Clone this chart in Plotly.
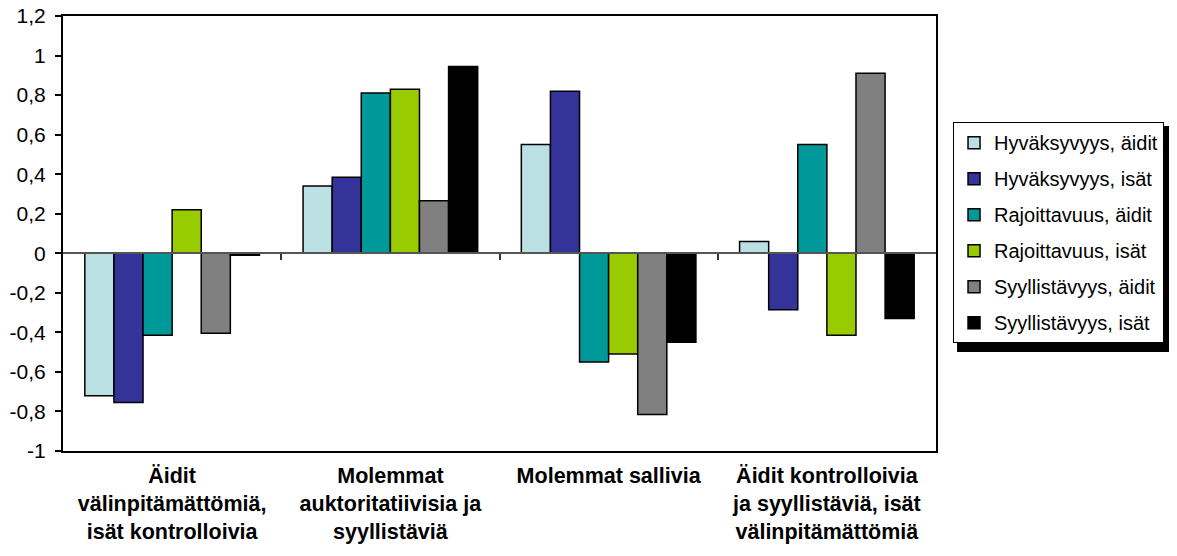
import plotly.graph_objects as go

categories = [
    "Äidit<br>välinpitämättömiä,<br>isät kontrolloivia",
    "Molemmat<br>auktoritatiivisia ja<br>syyllistäviä",
    "Molemmat sallivia",
    "Äidit kontrolloivia<br>ja syyllistäviä, isät<br>välinpitämättömiä",
]
series_names = [
    "Hyväksyvyys, äidit",
    "Hyväksyvyys, isät",
    "Rajoittavuus, äidit",
    "Rajoittavuus, isät",
    "Syyllistävyys, äidit",
    "Syyllistävyys, isät",
]
hyv_aidit = [-0.72, 0.34, 0.55, 0.06]
hyv_isat = [-0.755, 0.385, 0.82, -0.285]
raj_aidit = [-0.415, 0.81, -0.55, 0.55]
raj_isat = [0.22, 0.83, -0.51, -0.415]
syy_aidit = [-0.405, 0.265, -0.815, 0.91]
syy_isat = [-0.01, 0.945, -0.45, -0.33]
series_values = [hyv_aidit, hyv_isat, raj_aidit, raj_isat, syy_aidit, syy_isat]
colors = ["#BBE0E3", "#333399", "#009999", "#99CC00", "#808080", "#000000"]

tick_vals = [1.2, 1, 0.8, 0.6, 0.4, 0.2, 0, -0.2, -0.4, -0.6, -0.8, -1]
tick_text = ["1,2", "1", "0,8", "0,6", "0,4", "0,2", "0", "-0,2", "-0,4", "-0,6", "-0,8", "-1"]

cat_labels = ["<b>%s</b>" % c for c in categories]

FONT = "Arial, Liberation Sans, sans-serif"

fig = go.Figure()
for name, vals, col in zip(series_names, series_values, colors):
    fig.add_trace(go.Bar(
        x=list(range(len(categories))), y=vals, name=name,
        marker=dict(color=col, line=dict(color="#000000", width=1.5)),
        legendgroup=name,
    ))

# helper axis drawing the category axis line at y=0 with boundary ticks
fig.add_trace(go.Scatter(x=[0, 3], y=[None, None], xaxis="x2", showlegend=False, hoverinfo="skip"))

fig.update_layout(
    width=1161, height=540,
    margin=dict(l=55, r=233, t=8, b=97, autoexpand=False),
    paper_bgcolor="white", plot_bgcolor="white",
    barmode="group", bargap=0.2, bargroupgap=0,
    font=dict(family=FONT, color="black"),
    showlegend=True,
    legend=dict(
        x=1.0195, y=0.756, xanchor="left", yanchor="top",
        bgcolor="white", bordercolor="black", borderwidth=1,
        font=dict(size=20, family=FONT),
        tracegroupgap=7, traceorder="grouped",
    ),
    xaxis=dict(
        range=[-0.5, 3.5], tickmode="array", tickvals=list(range(len(categories))),
        ticktext=cat_labels, ticks="", showgrid=False, zeroline=False,
        showline=True, linecolor="black", linewidth=2, mirror=True,
        tickfont=dict(size=21.5, family=FONT, color="black"),
        tickangle=0, automargin=False, ticklabelstandoff=4,
    ),
    xaxis2=dict(
        overlaying="x", anchor="free", position=1 / 2.2,
        range=[-0.5, 3.5], tickmode="array", tickvals=[0.5, 1.5, 2.5],
        ticks="outside", ticklen=6, tickwidth=1.5, tickcolor="#333333",
        showticklabels=False, showgrid=False, zeroline=False,
        showline=True, linecolor="#555555", linewidth=1.5, automargin=False,
    ),
    yaxis=dict(
        range=[-1, 1.2], tickmode="array", tickvals=tick_vals, ticktext=tick_text,
        ticks="outside", ticklen=6, tickwidth=1.5, tickcolor="black",
        showgrid=False, zeroline=False,
        showline=True, linecolor="black", linewidth=2, mirror=True,
        tickfont=dict(size=21, family=FONT, color="black"),
        automargin=False, ticklabelstandoff=5, ticklabeloverflow="allow",
    ),
    shapes=[dict(
        type="rect", xref="paper", yref="paper",
        x0=1.0241, x1=1.2669, y0=0.2276, y1=0.747,
        fillcolor="black", line=dict(width=0), layer="above",
    )],
)

fig.write_html("out.html")
